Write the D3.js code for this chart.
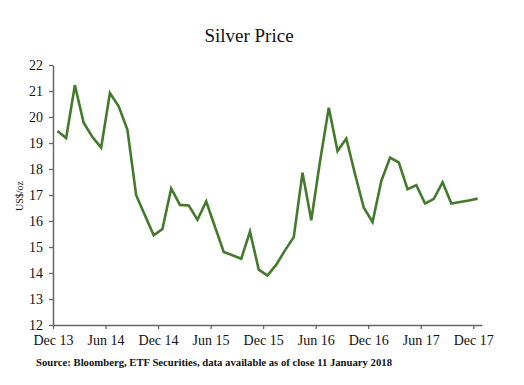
<!DOCTYPE html>
<html>
<head>
<meta charset="utf-8">
<script src="https://cdn.jsdelivr.net/npm/d3@7"></script>
<style>
  body { margin: 0; background: #fff; }
  svg text { font-family: "Liberation Serif", "DejaVu Serif", serif; }
</style>
</head>
<body>
<div id="chart"></div>
<script>
// Monthly silver price, Dec 13 .. Dec 17 (49 months)
const prices = [
  19.46, 19.19, 21.22, 19.78, 19.23, 18.82, 20.92, 20.41, 19.51, 16.99,
  16.22, 15.45, 15.69, 17.25, 16.62, 16.60, 16.05, 16.75, 15.78, 14.81,
  14.68, 14.55, 15.59, 14.13, 13.90, 14.32, 14.87, 15.38, 17.86, 16.03,
  18.30, 20.36, 18.69, 19.17, 17.80, 16.51, 15.96, 17.54, 18.44, 18.25,
  17.22, 17.38, 16.67, 16.85, 17.49, 16.67, 16.73, 16.79, 16.86
];
const xTickLabels = ["Dec 13", "Jun 14", "Dec 14", "Jun 15", "Dec 15", "Jun 16", "Dec 16", "Jun 17", "Dec 17"];
const yTicks = [12, 13, 14, 15, 16, 17, 18, 19, 20, 21, 22];

const width = 524, height = 385;
const margin = {top: 65, right: 42, bottom: 60, left: 53};
const innerW = width - margin.left - margin.right;
const innerH = height - margin.top - margin.bottom;

const svg = d3.select('#chart').append('svg')
    .attr('width', width)
    .attr('height', height);

const g = svg.append('g')
    .attr('transform', `translate(${margin.left},${margin.top})`);

// Scales - category style x axis, each month sits in the middle of its slot
const xScale = d3.scaleLinear()
  .domain([0, prices.length])
  .range([0, innerW]);

const yScale = d3.scaleLinear()
  .domain([12, 22])
  .range([innerH, 0]);

// Axes
const xAxis = d3.axisBottom(xScale)
  .tickValues(xTickLabels.map((d, i) => i * 6))
  .tickFormat((d, i) => xTickLabels[i])
  .tickSize(4)
  .tickSizeOuter(0)
  .tickPadding(6);

const yAxis = d3.axisLeft(yScale)
  .tickValues(yTicks)
  .tickSize(4)
  .tickSizeOuter(0)
  .tickPadding(6);

const gx = g.append('g')
    .attr('transform', `translate(0,${innerH})`)
    .call(xAxis);

const gy = g.append('g')
    .call(yAxis);

[gx, gy].forEach(a => {
  a.attr('font-family', '"Liberation Serif", serif').attr('font-size', 14);
  a.select('.domain').attr('stroke', '#666').attr('stroke-width', 1.5);
  a.selectAll('.tick line').attr('stroke', '#666').attr('stroke-width', 1.3);
  a.selectAll('.tick text').attr('fill', '#111');
});

// Line
const line = d3.line()
  .x((d, i) => xScale(i + 0.5))
  .y(d => yScale(d));

g.append('path')
  .datum(prices)
  .attr('fill', 'none')
  .attr('stroke', '#447a2c')
  .attr('stroke-width', 2.6)
  .attr('stroke-linejoin', 'miter')
  .attr('d', line);

// Title
svg.append('text')
  .attr('x', 249)
  .attr('y', 42)
  .attr('text-anchor', 'middle')
  .attr('font-size', 19)
  .attr('fill', '#111')
  .text('Silver Price');

// Y axis label
svg.append('text')
  .attr('transform', 'translate(23,196) rotate(-90)')
  .attr('text-anchor', 'middle')
  .attr('font-size', 10)
  .attr('fill', '#111')
  .text('US$/oz');

// Source
svg.append('text')
  .attr('x', 36)
  .attr('y', 366)
  .attr('textLength', 356)
  .attr('lengthAdjust', 'spacingAndGlyphs')
  .attr('font-size', 11)
  .attr('font-weight', 'bold')
  .attr('fill', '#111')
  .text('Source: Bloomberg, ETF Securities, data available as of close 11 January 2018');
</script>
</body>
</html>
